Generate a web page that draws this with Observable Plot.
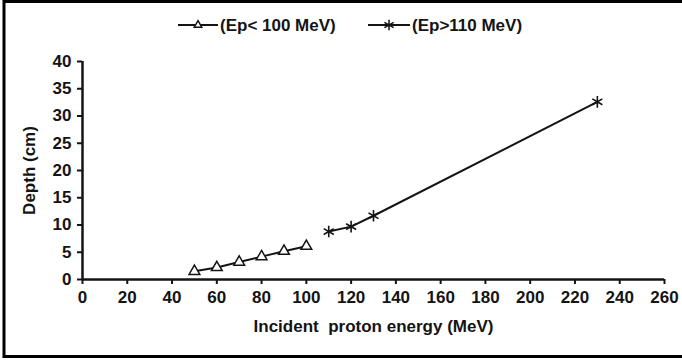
<!DOCTYPE html>
<html>
<head>
<meta charset="utf-8">
<script src="https://cdn.jsdelivr.net/npm/d3@7"></script>
<script src="https://cdn.jsdelivr.net/npm/@observablehq/plot@0.6"></script>
<style>
  html, body { margin: 0; padding: 0; background: #fff; }
  #chart { position: relative; width: 682px; height: 360px; }
  #chart svg { display: block; }
</style>
</head>
<body>
<div id="chart"></div>
<script>
// Data
const lowEnergy = [50, 60, 70, 80, 90, 100];           // MeV, Ep < 100 MeV
const lowDepth = [1.5, 2.2, 3.2, 4.2, 5.2, 6.1];        // cm
const highEnergy = [110, 120, 130, 230];               // MeV, Ep > 110 MeV
const highDepth = [8.8, 9.7, 11.7, 32.6];               // cm
const seriesNames = ["(Ep< 100 MeV)", "(Ep>110 MeV)"];
const xTicks = d3.range(0, 261, 20);
const yTicks = d3.range(0, 41, 5);
const xLabel = "Incident  proton energy (MeV)";
const yLabel = "Depth (cm)";

const low = lowEnergy.map((e, i) => ({energy: e, depth: lowDepth[i]}));
const high = highEnergy.map((e, i) => ({energy: e, depth: highDepth[i]}));

const FONT = "'Liberation Sans', Arial, sans-serif";
const INK = "#141414";

const plot = Plot.plot({
  width: 682,
  height: 360,
  marginLeft: 82,
  marginRight: 18,
  marginTop: 61,
  marginBottom: 81,
  style: {fontFamily: FONT, fontSize: "17px", fontWeight: "bold", color: INK, background: "#fff"},
  x: {domain: [0, 260]},
  y: {domain: [0, 40]},
  marks: [
    Plot.axisX({ticks: xTicks, tickSize: 5, tickPadding: 6, strokeWidth: 2,
      label: xLabel, labelAnchor: "center", labelArrow: "none", labelOffset: 52}),
    Plot.axisY({ticks: yTicks, tickSize: 5, tickPadding: 6, strokeWidth: 2,
      label: yLabel, labelAnchor: "center", labelArrow: "none", labelOffset: 60}),
    Plot.ruleY([0], {x1: 0, x2: 260, stroke: INK, strokeWidth: 2.5}),
    Plot.ruleX([0], {y1: 0, y2: 40, stroke: INK, strokeWidth: 2.5}),
    Plot.line(low, {x: "energy", y: "depth", stroke: INK, strokeWidth: 2}),
    Plot.line(high, {x: "energy", y: "depth", stroke: INK, strokeWidth: 2}),
    Plot.dot(low, {x: "energy", y: "depth", symbol: "triangle", r: 4, fill: "white", stroke: INK, strokeWidth: 1.5}),
    Plot.dot(high, {x: "energy", y: "depth", symbol: "asterisk", r: 5.5, stroke: INK, strokeWidth: 1.6})
  ]
});

document.getElementById("chart").appendChild(plot);

// Legend and frame drawn into the same svg
const svg = d3.select(plot);
const legend = svg.append("g").attr("font-family", FONT).attr("font-size", 17).attr("font-weight", "bold")
  .attr("fill", INK).attr("text-anchor", "start");
const items = [
  {name: seriesNames[0], x0: 178, x1: 218, symbol: d3.symbolTriangle2, fill: "white", size: 40},
  {name: seriesNames[1], x0: 368, x1: 410, symbol: d3.symbolAsterisk, fill: "none", size: 80}
];
const ly = 25;
items.forEach(it => {
  legend.append("line").attr("x1", it.x0).attr("x2", it.x1).attr("y1", ly).attr("y2", ly)
    .attr("stroke", INK).attr("stroke-width", 2);
  legend.append("path").attr("d", d3.symbol(it.symbol, it.size)())
    .attr("transform", `translate(${(it.x0 + it.x1) / 2},${ly})`)
    .attr("fill", it.fill).attr("stroke", INK).attr("stroke-width", 1.5);
  legend.append("text").attr("x", it.x1 + 2).attr("y", ly).attr("dy", "0.35em")
    .attr("text-anchor", "start").text(it.name);
});

// Outer frame (left, top, bottom)
svg.append("path")
  .attr("d", "M682,1.5 H4 V356.5 H682")
  .attr("fill", "none").attr("stroke", "#000").attr("stroke-width", 3);
</script>
</body>
</html>
